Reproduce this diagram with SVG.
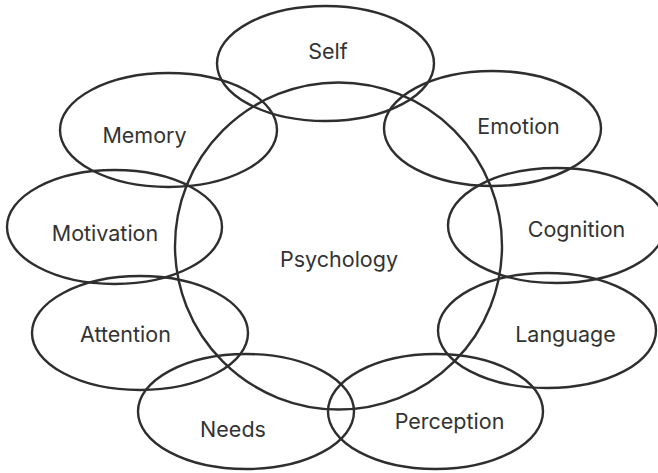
<svg xmlns="http://www.w3.org/2000/svg" width="658" height="473" viewBox="0 0 658 473">
<style>
.s{fill:none;stroke:#2e2e2e;stroke-width:2.4}
.t{font-family:"Inter","Liberation Sans",sans-serif;font-size:21.5px;fill:#333;text-anchor:middle}
</style>
<rect width="658" height="473" fill="#fff"/>
<g id="psychology"><circle class="s" cx="338.5" cy="246" r="163.5"/><text class="t" x="339" y="267">Psychology</text></g>
<g id="self"><ellipse class="s" cx="325.5" cy="63.5" rx="108.5" ry="57.5"/><text class="t" x="328" y="59">Self</text></g>
<g id="memory"><ellipse class="s" cx="168.5" cy="130" rx="108.5" ry="57"/><text class="t" x="144.5" y="143">Memory</text></g>
<g id="emotion"><ellipse class="s" cx="492.5" cy="128.5" rx="108.5" ry="57.5"/><text class="t" x="518.5" y="134">Emotion</text></g>
<g id="motivation"><ellipse class="s" cx="114.5" cy="227" rx="107.5" ry="57"/><text class="t" x="105" y="241">Motivation</text></g>
<g id="cognition"><ellipse class="s" cx="556.5" cy="225.5" rx="108.5" ry="57.5"/><text class="t" x="576.5" y="237">Cognition</text></g>
<g id="attention"><ellipse class="s" cx="140" cy="333" rx="108" ry="57"/><text class="t" x="125.5" y="342">Attention</text></g>
<g id="language"><ellipse class="s" cx="547" cy="330.5" rx="109" ry="57.5"/><text class="t" x="565.5" y="342">Language</text></g>
<g id="needs"><ellipse class="s" cx="246" cy="411.5" rx="108" ry="57.5"/><text class="t" x="233" y="437">Needs</text></g>
<g id="perception"><ellipse class="s" cx="435.5" cy="411.5" rx="107.5" ry="57.5"/><text class="t" x="449.5" y="429">Perception</text></g>
</svg>
